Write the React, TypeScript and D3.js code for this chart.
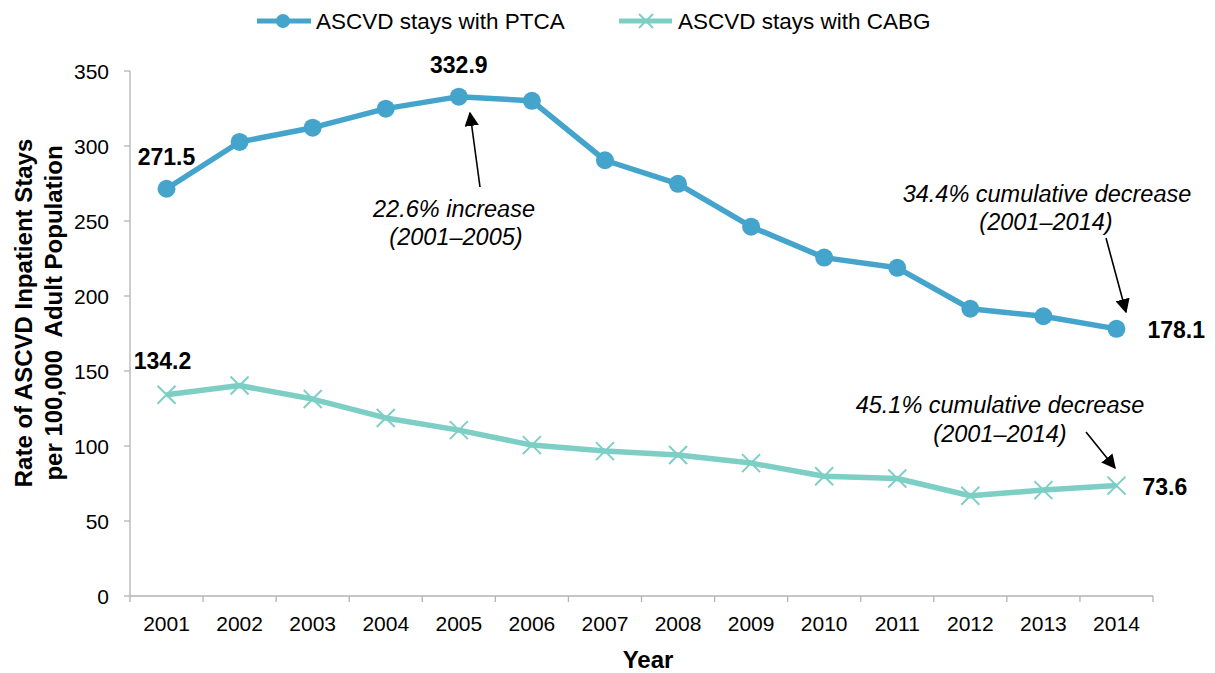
import React from "react";
import * as d3 from "d3";

const years = ["2001","2002","2003","2004","2005","2006","2007","2008","2009","2010","2011","2012","2013","2014"];
const ptca = [271.5, 302.7, 312.2, 324.9, 332.9, 330.1, 290.5, 274.8, 246.2, 225.6, 218.8, 191.5, 186.5, 178.1];
const cabg = [134.2, 140.3, 131.3, 118.7, 110.6, 100.6, 96.6, 94.0, 88.6, 79.8, 78.3, 66.8, 70.6, 73.6];
const yTicks = [0, 50, 100, 150, 200, 250, 300, 350];
const seriesNames = ["ASCVD stays with PTCA", "ASCVD stays with CABG"];

const W = 1215, H = 673;
const FONT = "'Liberation Sans', Arial, sans-serif";
const BLUE = "#44a4cc";
const TEAL = "#7dcfc5";
const AXIS = "#b3b3b3";

export default function App() {
  const x = d3.scaleBand<string>().domain(years).range([130, 1153]);
  const y = d3.scaleLinear().domain([0, 350]).range([596, 71]);
  const cx = (yr: string) => (x(yr) as number) + x.bandwidth() / 2;

  const line = d3.line<number>().x((_, i) => cx(years[i])).y((v) => y(v));

  const last = years.length - 1;

  const xMark = (px: number, py: number, s: number, key: string) => (
    <g key={key} stroke={TEAL} strokeWidth={2}>
      <line x1={px - s} y1={py - s} x2={px + s} y2={py + s} />
      <line x1={px - s} y1={py + s} x2={px + s} y2={py - s} />
    </g>
  );

  const annot = { fontSize: 23.5, fontStyle: "italic" as const, textAnchor: "middle" as const };
  const valueLabel = { fontSize: 23, fontWeight: "bold" as const };

  return (
    <svg width={W} height={H} style={{ position: "absolute", left: 0, top: 0, background: "#fff" }} fontFamily={FONT}>
      <defs>
        <marker id="arrowHead" viewBox="0 0 10 10" refX="9" refY="5" markerWidth="9" markerHeight="9" orient="auto-start-reverse" markerUnits="strokeWidth">
          <path d="M0,0 L10,5 L0,10 z" fill="#000" />
        </marker>
      </defs>

      {/* legend */}
      <g>
        <line x1={257} x2={311} y1={21} y2={21} stroke={BLUE} strokeWidth={5} />
        <circle cx={283} cy={21} r={7} fill={BLUE} />
        <text x={316} y={29} fontSize={22.5}>{seriesNames[0]}</text>
        <line x1={619} x2={672} y1={21} y2={21} stroke={TEAL} strokeWidth={5} />
        {xMark(646, 21, 7, "lg")}
        <text x={678} y={29} fontSize={22.5}>{seriesNames[1]}</text>
      </g>

      {/* y axis */}
      <line x1={130} x2={130} y1={y(350)} y2={y(0)} stroke={AXIS} strokeWidth={1.3} />
      {yTicks.map((t) => (
        <g key={t}>
          <line x1={124} x2={130} y1={y(t)} y2={y(t)} stroke={AXIS} strokeWidth={1.3} />
          <text x={109} y={y(t) + 7.5} fontSize={21} textAnchor="end">{t}</text>
        </g>
      ))}

      {/* x axis */}
      <line x1={130} x2={1153} y1={y(0)} y2={y(0)} stroke={AXIS} strokeWidth={1.3} />
      {years.map((yr) => (
        <line key={"t" + yr} x1={x(yr) as number} x2={x(yr) as number} y1={y(0)} y2={y(0) + 6} stroke={AXIS} strokeWidth={1.3} />
      ))}
      <line x1={1153} x2={1153} y1={y(0)} y2={y(0) + 6} stroke={AXIS} strokeWidth={1.3} />
      {years.map((yr) => (
        <text key={"l" + yr} x={cx(yr)} y={631} fontSize={21} textAnchor="middle">{yr}</text>
      ))}

      {/* axis titles */}
      <text x={648} y={668} fontSize={24} fontWeight="bold" textAnchor="middle">Year</text>
      <g transform="translate(32,313) rotate(-90)">
        <text x={0} y={0} fontSize={24} fontWeight="bold" textAnchor="middle">Rate of ASCVD Inpatient Stays</text>
        <text x={0} y={30} fontSize={24} fontWeight="bold" textAnchor="middle" xmlSpace="preserve">per 100,000  Adult Population</text>
      </g>

      {/* series */}
      <path d={line(cabg) || ""} fill="none" stroke={TEAL} strokeWidth={5.5} strokeLinejoin="round" />
      {cabg.map((v, i) => xMark(cx(years[i]), y(v), 9, "c" + i))}
      <path d={line(ptca) || ""} fill="none" stroke={BLUE} strokeWidth={5.5} strokeLinejoin="round" />
      {ptca.map((v, i) => (
        <circle key={"p" + i} cx={cx(years[i])} cy={y(v)} r={9} fill={BLUE} />
      ))}

      {/* value labels */}
      <text x={cx(years[0])} y={y(ptca[0]) - 24} {...valueLabel} textAnchor="middle">{ptca[0].toFixed(1)}</text>
      <text x={cx(years[4])} y={y(ptca[4]) - 24} {...valueLabel} textAnchor="middle">{ptca[4].toFixed(1)}</text>
      <text x={cx(years[last]) + 31} y={y(ptca[last]) + 9} {...valueLabel}>{ptca[last].toFixed(1)}</text>
      <text x={cx(years[0]) - 4} y={y(cabg[0]) - 26} {...valueLabel} textAnchor="middle">{cabg[0].toFixed(1)}</text>
      <text x={cx(years[last]) + 26} y={y(cabg[last]) + 9} {...valueLabel}>{cabg[last].toFixed(1)}</text>

      {/* annotations */}
      <line x1={480} y1={187} x2={470} y2={113} stroke="#000" strokeWidth={1.6} markerEnd="url(#arrowHead)" />
      <text x={454} y={217} {...annot}>22.6% increase</text>
      <text x={456} y={245} {...annot}>(2001–2005)</text>

      <text x={1047} y={202} {...annot}>34.4% cumulative decrease</text>
      <text x={1046} y={230} {...annot}>(2001–2014)</text>
      <line x1={1106} y1={238} x2={1126} y2={312} stroke="#000" strokeWidth={1.6} markerEnd="url(#arrowHead)" />

      <text x={1000} y={413} {...annot}>45.1% cumulative decrease</text>
      <text x={1000} y={442} {...annot}>(2001–2014)</text>
      <line x1={1086} y1={432} x2={1115} y2={468} stroke="#000" strokeWidth={1.6} markerEnd="url(#arrowHead)" />
    </svg>
  );
}
